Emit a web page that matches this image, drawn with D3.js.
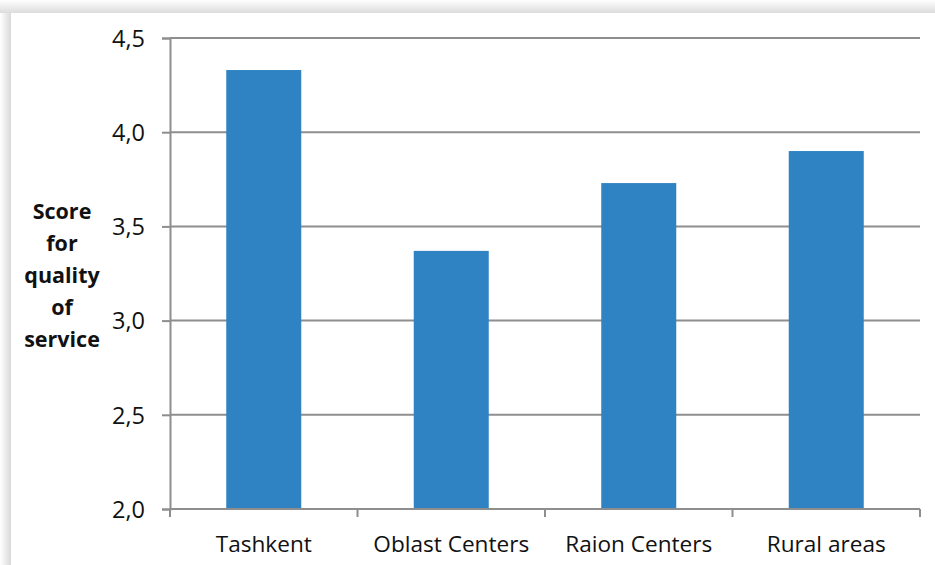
<!DOCTYPE html>
<html>
<head>
<meta charset="utf-8">
<script src="https://cdn.jsdelivr.net/npm/d3@7"></script>
<style>
  html, body { margin: 0; padding: 0; background: #ffffff; }
  svg { display: block; }
  text { font-family: "Open Sans", Lato, sans-serif; fill: #111111; }
</style>
</head>
<body>
<svg id="chart" width="935" height="565"></svg>
<script>
// Average service-quality score by settlement type
const categories = ["Tashkent", "Oblast Centers", "Raion Centers", "Rural areas"];
const scores = [4.33, 3.37, 3.73, 3.90];
const yTicks = [2.0, 2.5, 3.0, 3.5, 4.0, 4.5];
const yTitleLines = ["Score", "for", "quality", "of", "service"];

const W = 935, H = 565;
const plot = { left: 170, right: 920, top: 38, bottom: 509 };

const svg = d3.select("#chart");
const defs = svg.append("defs");

// soft shadow around the card edge
const gl = defs.append("linearGradient").attr("id", "shadowL")
  .attr("x1", "0").attr("x2", "1").attr("y1", "0").attr("y2", "0");
gl.append("stop").attr("offset", "0").attr("stop-color", "#ffffff");
gl.append("stop").attr("offset", "1").attr("stop-color", "#d9d9d9");
const gt = defs.append("linearGradient").attr("id", "shadowT")
  .attr("x1", "0").attr("x2", "0").attr("y1", "0").attr("y2", "1");
gt.append("stop").attr("offset", "0").attr("stop-color", "#ffffff");
gt.append("stop").attr("offset", "1").attr("stop-color", "#dcdcdc");

svg.append("rect").attr("x", 0).attr("y", 0).attr("width", 11).attr("height", H)
  .attr("fill", "url(#shadowL)");
svg.append("rect").attr("x", 0).attr("y", 0).attr("width", W).attr("height", 13)
  .attr("fill", "url(#shadowT)");
svg.append("rect").attr("x", 11).attr("y", 13).attr("width", W - 11).attr("height", H - 13)
  .attr("fill", "#ffffff");

const x = d3.scaleBand()
  .domain(categories)
  .range([plot.left, plot.right])
  .paddingInner(0.6)
  .paddingOuter(0.3);

const y = d3.scaleLinear()
  .domain([2.0, 4.5])
  .range([plot.bottom, plot.top]);

const fmt = v => d3.format(".1f")(v).replace(".", ",");

// horizontal gridlines
svg.append("g")
  .selectAll("line")
  .data(yTicks.filter(t => t > 2.0))
  .join("line")
  .attr("x1", plot.left).attr("x2", plot.right)
  .attr("y1", d => y(d)).attr("y2", d => y(d))
  .attr("stroke", "#8e8e8e").attr("stroke-width", 2);

// bars
svg.append("g")
  .selectAll("rect")
  .data(categories.map((c, i) => ({ c, v: scores[i] })))
  .join("rect")
  .attr("x", d => x(d.c))
  .attr("width", x.bandwidth())
  .attr("y", d => y(d.v))
  .attr("height", d => y(2.0) - y(d.v))
  .attr("fill", "#2f83c3");

// y axis
const yAxis = svg.append("g")
  .attr("transform", `translate(${plot.left},0)`)
  .call(d3.axisLeft(y).tickValues(yTicks).tickFormat(fmt).tickSize(8).tickPadding(17));
yAxis.select(".domain").attr("stroke", "#8e8e8e").attr("stroke-width", 2);
yAxis.selectAll(".tick line").attr("stroke", "#8e8e8e").attr("stroke-width", 2);
yAxis.selectAll(".tick text")
  .style("font-size", "23.5px").style("font-family", "'Open Sans', sans-serif")
  .attr("fill", "#111111").attr("dy", "0.35em");

// x axis with ticks at category boundaries
const xAxisG = svg.append("g").attr("transform", `translate(0,${plot.bottom})`);
xAxisG.append("line")
  .attr("x1", plot.left).attr("x2", plot.right)
  .attr("stroke", "#8e8e8e").attr("stroke-width", 2);
const bounds = categories.map(c => x(c) - x.step() * x.paddingInner() / 2)
  .concat([plot.right]);
xAxisG.selectAll("line.bnd")
  .data(bounds)
  .join("line").attr("class", "bnd")
  .attr("x1", d => d).attr("x2", d => d)
  .attr("y1", 0).attr("y2", 8)
  .attr("stroke", "#8e8e8e").attr("stroke-width", 2);
xAxisG.selectAll("text")
  .data(categories)
  .join("text")
  .attr("x", d => x(d) + x.bandwidth() / 2)
  .attr("y", 43)
  .attr("text-anchor", "middle")
  .style("font-size", "22.6px")
  .text(d => d);

// y axis title
svg.append("text")
  .attr("text-anchor", "middle")
  .style("font-size", "21.5px").style("font-weight", "bold")
  .selectAll("tspan")
  .data(yTitleLines)
  .join("tspan")
  .attr("x", 62)
  .attr("y", (d, i) => 219 + i * 32)
  .text(d => d);
</script>
</body>
</html>
